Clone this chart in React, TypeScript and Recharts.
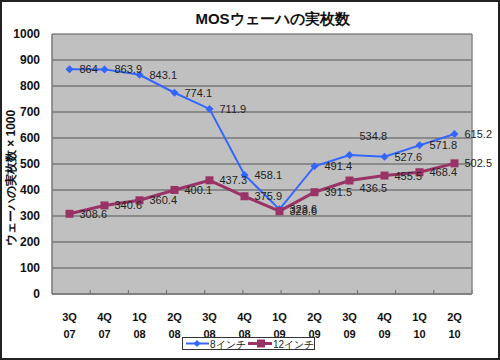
import React from "react";
import { LineChart, Line, XAxis, YAxis, CartesianGrid, LabelList, ReferenceLine } from "recharts";

const categories = ["3Q\n07", "4Q\n07", "1Q\n08", "2Q\n08", "3Q\n08", "4Q\n08", "1Q\n09", "2Q\n09", "3Q\n09", "4Q\n09", "1Q\n10", "2Q\n10"];
const inch8 = [864, 863.9, 843.1, 774.1, 711.9, 458.1, 325.6, 491.4, 534.8, 527.6, 571.8, 615.2];
const inch12 = [308.6, 340.6, 360.4, 400.1, 437.3, 375.9, 318.6, 391.5, 436.5, 455.5, 468.4, 502.5];
const yTicks = [0, 100, 200, 300, 400, 500, 600, 700, 800, 900, 1000];
const dividerTicks = [1, 2, 3, 4, 5, 6, 7, 8, 9, 10, 11];

const labels8 = ["864", "863.9", "843.1", "774.1", "711.9", "458.1", "323.6", "491.4", "534.8", "527.6", "571.8", "615.2"];
const labels12 = ["308.6", "340.6", "360.4", "400.1", "437.3", "375.9", "328.6", "391.5", "436.5", "455.5", "468.4", "502.5"];

const data = categories.map((c, i) => ({ cat: c, a: inch8[i], b: inch12[i] }));

const BLUE = "#3366FF";
const MAG = "#993366";
const FONT = "'Liberation Sans', Arial, sans-serif";

// label nudges (style only)
const nudge8: Record<number, [number, number]> = { 8: [0, -19] };
const nudge12: Record<number, [number, number]> = { 8: [0, 7] };

const makeLabel = (texts: string[], nudge: Record<number, [number, number]>) => (props: any) => {
  const { x, y, index } = props;
  const n = nudge[index] || [0, 0];
  return (
    <text x={x + 10 + n[0]} y={y + n[1] + 4} fontSize={11} fontFamily={FONT} fill="#222" textAnchor="start">
      {texts[index]}
    </text>
  );
};

const Diamond = (props: any) => {
  const { cx, cy } = props;
  if (cx == null || cy == null) return null;
  return <polygon points={`${cx},${cy - 4} ${cx + 4},${cy} ${cx},${cy + 4} ${cx - 4},${cy}`} fill={BLUE} />;
};

const Square = (props: any) => {
  const { cx, cy } = props;
  if (cx == null || cy == null) return null;
  return <rect x={cx - 4} y={cy - 4} width={8} height={8} fill={MAG} />;
};

const CatTick = (props: any) => {
  const { x, y, payload } = props;
  const [l1, l2] = String(payload.value).split("\n");
  return (
    <g>
      <text x={x} y={y + 19} textAnchor="middle" fontSize={11} fontWeight="bold" fontFamily={FONT} fill="#111">{l1}</text>
      <text x={x} y={y + 36} textAnchor="middle" fontSize={11} fontWeight="bold" fontFamily={FONT} fill="#111">{l2}</text>
    </g>
  );
};

export default function App() {
  return (
    <div style={{ position: "absolute", left: 0, top: 0, width: 500, height: 360, background: "#fff", boxSizing: "border-box", border: "2px solid #222", fontFamily: FONT }}>
      <div style={{ position: "absolute", left: -2, top: -2, width: 500, height: 360 }}>
        <LineChart width={500} height={360} data={data} margin={{ top: 34, right: 0, left: 0, bottom: 0 }}>
          <CartesianGrid vertical={false} horizontal fill="#C0C0C0" stroke="#555" strokeOpacity={1} />
          <XAxis
            dataKey="cat"
            height={66}
            interval={0}
            padding={{ left: 17.5, right: 17.5 }}
            tickLine={false}
            axisLine={{ stroke: "#777", strokeWidth: 1.5 }}
            tick={<CatTick />}
          />
          <XAxis xAxisId="div" type="number" domain={[0, 12]} hide />
          <YAxis
            domain={[0, 1000]}
            ticks={yTicks}
            width={52}
            interval={0}
            tickLine={false}
            axisLine={{ stroke: "#777", strokeWidth: 1.5 }}
            tick={{ fontSize: 12, fontWeight: "bold", fill: "#111", fontFamily: FONT }}
            tickMargin={6}
          />
          <YAxis yAxisId="r" orientation="right" width={28} domain={[0, 1000]} tick={false} tickLine={false} axisLine={{ stroke: "#888", strokeWidth: 1.5 }} />
          {dividerTicks.map((t) => (
            <ReferenceLine
              key={t}
              xAxisId="div"
              segment={[{ x: t, y: 0 }, { x: t, y: 15 }]}
              stroke="#666"
              strokeWidth={1}
              ifOverflow="visible"
            />
          ))}
          <Line dataKey="a" name="8インチ" stroke={BLUE} strokeWidth={2} dot={<Diamond />} isAnimationActive={false}>
            <LabelList dataKey="a" content={makeLabel(labels8, nudge8)} />
          </Line>
          <Line dataKey="b" name="12インチ" stroke={MAG} strokeWidth={3} dot={<Square />} isAnimationActive={false}>
            <LabelList dataKey="b" content={makeLabel(labels12, nudge12)} />
          </Line>
        </LineChart>
        <div style={{ position: "absolute", left: 0, top: 10, width: 545, textAlign: "center", fontSize: 15, fontWeight: "bold", color: "#111", fontFamily: FONT }}>
          MOSウェーハの実枚数
        </div>
        <div style={{ position: "absolute", left: 11, top: 178, width: 0, height: 0 }}>
          <div style={{ position: "absolute", transform: "translate(-50%, -50%) rotate(-90deg)", whiteSpace: "nowrap", fontSize: 12, fontWeight: "bold", color: "#111", fontFamily: FONT }}>
            ウェーハの実枚数 × 1000
          </div>
        </div>
        <div style={{ position: "absolute", left: 182, top: 337, width: 133, height: 13, boxSizing: "border-box", border: "1px solid #333", background: "#fff", fontSize: 10, fontFamily: FONT, color: "#222", lineHeight: "11px" }}>
          <svg width={131} height={11} style={{ position: "absolute", left: 0, top: 0 }}>
            <line x1={3} y1={5.5} x2={26} y2={5.5} stroke={BLUE} strokeWidth={2} />
            <polygon points="14,2 17.5,5.5 14,9 10.5,5.5" fill={BLUE} />
            <line x1={65} y1={5.5} x2={89} y2={5.5} stroke={MAG} strokeWidth={3} />
            <rect x={74} y={1.5} width={8} height={8} fill={MAG} />
            <text x={27} y={9.5} fontSize={10} fontFamily={FONT} fill="#222">8インチ</text>
            <text x={90} y={9.5} fontSize={10} fontFamily={FONT} fill="#222">12インチ</text>
          </svg>
        </div>
      </div>
    </div>
  );
}
